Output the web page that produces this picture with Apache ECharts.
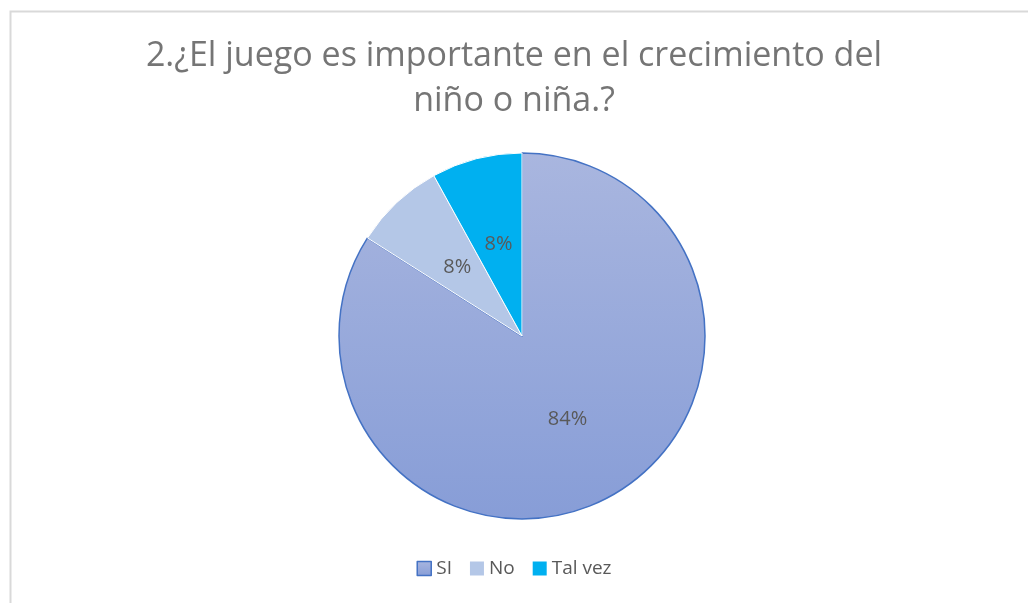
<!DOCTYPE html>
<html>
<head>
<meta charset="utf-8">
<script src="https://cdn.jsdelivr.net/npm/echarts@6/dist/echarts.min.js"></script>
<style>html,body{margin:0;padding:0;background:#fff}#c{width:1028px;height:603px}</style>
</head>
<body>
<div id="c"></div>
<script>
var titleText = '2.¿El juego es importante en el crecimiento del\nniño o niña.?';
var categories = ['SI', 'No', 'Tal vez'];
var values = [84, 8, 8];
var colors = [
  new echarts.graphic.LinearGradient(0, 0, 0, 1, [{offset: 0, color: '#a9b6df'}, {offset: 1, color: '#879dd7'}]),
  '#b4c7e7',
  '#00b0f0'
];
var borders = ['#4472c4', '#ffffff', '#ffffff'];
var legendColors = [
  new echarts.graphic.LinearGradient(0, 0, 0, 1, [{offset: 0, color: '#a9b6df'}, {offset: 1, color: '#879dd7'}]),
  '#b4c7e7', '#00b0f0'
];

var chart = echarts.init(document.getElementById('c'));
chart.setOption({
  animation: false,
  backgroundColor: '#ffffff',
  graphic: [{
    type: 'rect', left: 8, top: 9, shape: {width: 1100, height: 700},
    style: {fill: 'none', stroke: '#d9d9d9', lineWidth: 2}, silent: true
  }],
  title: {
    text: titleText, left: 'center', top: 29,
    textStyle: {fontFamily: 'Open Sans', fontSize: 34, fontWeight: 'normal', color: '#757575', lineHeight: 45}
  },
  legend: {
    bottom: 20, left: 'center', itemWidth: 14, itemHeight: 14, itemGap: 18,
    icon: 'rect',
    textStyle: {fontFamily: 'Open Sans', fontSize: 19, color: '#595959'},
    data: categories.map(function (c, i) {
      return {name: c, itemStyle: {color: legendColors[i], borderColor: i === 0 ? '#4472c4' : 'transparent', borderWidth: i === 0 ? 1.5 : 0}};
    })
  },
  series: [{
    type: 'pie', center: [522, 336], radius: 183, startAngle: 90, clockwise: true,
    label: {position: 'inside', formatter: '{d}%', fontFamily: 'Open Sans', fontSize: 20, color: '#595959'},
    labelLine: {show: false},
    emphasis: {disabled: true},
    data: categories.map(function (c, i) {
      return {name: c, value: values[i], itemStyle: {color: colors[i], borderColor: borders[i], borderWidth: i === 0 ? 1.5 : 1}};
    })
  }]
});
</script>
</body>
</html>
